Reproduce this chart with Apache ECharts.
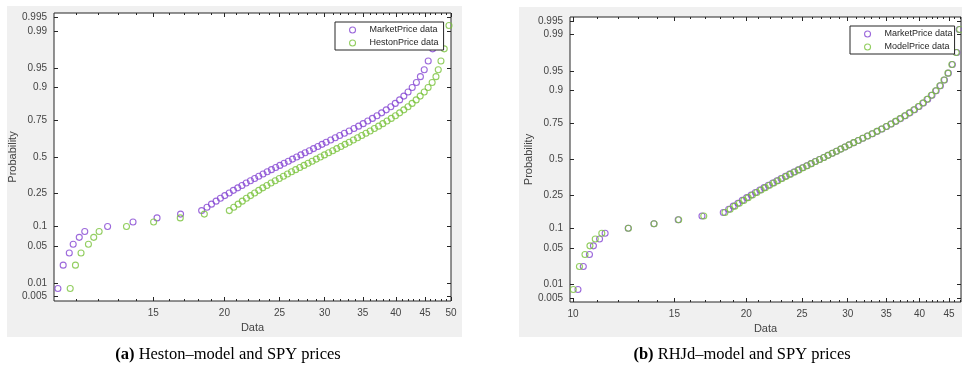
<!DOCTYPE html>
<html>
<head>
<meta charset="utf-8">
<script src="https://cdn.jsdelivr.net/npm/echarts@6/dist/echarts.min.js"></script>
<style>
html,body{margin:0;padding:0;background:#fff;}
#chart{width:962px;height:375px;}
</style>
</head>
<body>
<div id="chart"></div>
<script>
// ---- data (sorted prices) ----
const marketPrice = [10.20, 10.42, 10.68, 10.85, 11.12, 11.37, 12.47, 13.82, 15.23, 16.75,
  18.24, 18.64, 18.98, 19.34, 19.68, 20.03, 20.39, 20.74, 21.11, 21.47,
  21.84, 22.22, 22.60, 22.98, 23.38, 23.78, 24.19, 24.61, 25.03, 25.46,
  25.90, 26.34, 26.79, 27.25, 27.72, 28.20, 28.68, 29.18, 29.68, 30.18,
  30.74, 31.31, 31.88, 32.49, 33.12, 33.77, 34.41, 35.05, 35.71, 36.39,
  37.07, 37.77, 38.48, 39.20, 39.91, 40.62, 41.32, 42.03, 42.74, 43.47,
  44.18, 44.87, 45.60, 46.42, 46.85];
const hestonPrice = [10.72, 10.95, 11.20, 11.54, 11.79, 12.05, 13.46, 15.02, 16.73, 18.44,
  20.40, 20.77, 21.14, 21.50, 21.86, 22.23, 22.60, 22.98, 23.36, 23.75,
  24.15, 24.56, 24.97, 25.39, 25.81, 26.24, 26.68, 27.13, 27.59, 28.05,
  28.52, 29.00, 29.48, 29.97, 30.48, 30.99, 31.51, 32.04, 32.57, 33.12,
  33.69, 34.27, 34.85, 35.45, 36.06, 36.68, 37.31, 37.95, 38.60, 39.27,
  39.94, 40.62, 41.32, 42.02, 42.72, 43.43, 44.14, 44.87, 45.58, 46.33,
  47.05, 47.49, 48.01, 48.65, 49.59];
const modelPrice = [10.01, 10.26, 10.49, 10.70, 10.93, 11.22, 12.48, 13.83, 15.26, 16.87,
  18.36, 18.75, 19.10, 19.45, 19.80, 20.15, 20.50, 20.86, 21.22, 21.58,
  21.95, 22.33, 22.70, 23.08, 23.47, 23.87, 24.28, 24.69, 25.10, 25.52,
  25.95, 26.39, 26.83, 27.28, 27.74, 28.21, 28.69, 29.18, 29.67, 30.17,
  30.72, 31.28, 31.85, 32.45, 33.07, 33.71, 34.35, 34.99, 35.64, 36.31,
  36.98, 37.67, 38.37, 39.08, 39.79, 40.50, 41.20, 41.91, 42.63, 43.36,
  44.08, 44.79, 45.50, 46.30, 46.95];

const probTicks = [0.005, 0.01, 0.05, 0.1, 0.25, 0.5, 0.75, 0.9, 0.95, 0.99, 0.995];
const probTickLabels = ['0.005', '0.01', '0.05', '0.1', '0.25', '0.5', '0.75', '0.9', '0.95', '0.99', '0.995'];
const xTicksLeft = [15, 20, 25, 30, 35, 40, 45, 50];
const xTicksRight = [10, 15, 20, 25, 30, 35, 40, 45];
const xMinorTicks = [10, 11, 12, 13, 14, 15, 16, 17, 18, 19, 20, 21, 22, 23, 24, 25, 26, 27, 28, 29, 30,
  31, 32, 33, 34, 35, 36, 37, 38, 39, 40, 41, 42, 43, 44, 45, 46, 47, 48, 49, 50];
const xRangeLeft = [10.04, 50];
const xRangeRight = [9.88, 47.2];
const captionA = ['(a)', ' Heston\u2013model and SPY prices'];
const captionB = ['(b)', ' RHJd\u2013model and SPY prices'];

// ---- normal probability scale helpers ----
function norminv(p) {
  const a = [-3.969683028665376e+01, 2.209460984245205e+02, -2.759285104469687e+02, 1.383577518672690e+02, -3.066479806614716e+01, 2.506628277459239e+00];
  const b = [-5.447609879822406e+01, 1.615858368580409e+02, -1.556989798598866e+02, 6.680131188771972e+01, -1.328068155288572e+01];
  const c = [-7.784894002430293e-03, -3.223964580411365e-01, -2.400758277161838e+00, -2.549732539343734e+00, 4.374664141464968e+00, 2.938163982698783e+00];
  const d = [7.784695709041462e-03, 3.224671290700398e-01, 2.445134137142996e+00, 3.754408661907416e+00];
  const pl = 0.02425, ph = 1 - pl;
  let q, r;
  if (p < pl) {
    q = Math.sqrt(-2 * Math.log(p));
    return (((((c[0]*q+c[1])*q+c[2])*q+c[3])*q+c[4])*q+c[5]) / ((((d[0]*q+d[1])*q+d[2])*q+d[3])*q+1);
  }
  if (p <= ph) {
    q = p - 0.5; r = q * q;
    return (((((a[0]*r+a[1])*r+a[2])*r+a[3])*r+a[4])*r+a[5])*q / (((((b[0]*r+b[1])*r+b[2])*r+b[3])*r+b[4])*r+1);
  }
  q = Math.sqrt(-2 * Math.log(1 - p));
  return -(((((c[0]*q+c[1])*q+c[2])*q+c[3])*q+c[4])*q+c[5]) / ((((d[0]*q+d[1])*q+d[2])*q+d[3])*q+1);
}
// plotting positions of a normal probability plot: (rank - 0.5) / n
function probPoints(values) {
  const n = values.length;
  return values.map((v, i) => [Math.log(v), norminv((i + 0.5) / n)]);
}
const probTickZ = probTicks.map(norminv);
function probLabel(v) {
  for (let k = 0; k < probTickZ.length; k++) if (Math.abs(probTickZ[k] - v) < 1e-6) return probTickLabels[k];
  return '';
}

const FONT = '"Liberation Sans", Arial, Helvetica, sans-serif';
const AX = '#262626';
const LBL = '#444';
const PURPLE = '#8344d2';
const GREEN = '#78c23a';
const Y_LIM = 2.655;

function xAxesFor(gridIndex, range, majorTicks) {
  const base = {
    type: 'value', gridIndex, min: Math.log(range[0]), max: Math.log(range[1]),
    axisLine: {show: false, onZero: false}, splitLine: {show: false}
  };
  const majorVals = majorTicks.map(Math.log);
  const minorVals = xMinorTicks.map(Math.log);
  return [
    Object.assign({}, base, {
      position: 'bottom',
      axisTick: {inside: true, length: 4, customValues: majorVals, lineStyle: {color: AX, width: 1}},
      axisLabel: {customValues: majorVals, margin: 7, fontSize: 10, color: LBL, fontFamily: FONT,
        formatter: v => String(Math.round(Math.exp(v)))},
      name: 'Data', nameLocation: 'middle', nameGap: 20,
      nameTextStyle: {fontSize: 11, color: LBL, fontFamily: FONT}
    }),
    Object.assign({}, base, {
      position: 'bottom',
      axisTick: {inside: true, length: 2, customValues: minorVals, lineStyle: {color: AX, width: 1}},
      axisLabel: {show: false}
    }),
    Object.assign({}, base, {
      position: 'top',
      axisTick: {inside: true, length: 4, customValues: majorVals, lineStyle: {color: AX, width: 1}},
      axisLabel: {show: false}
    }),
    Object.assign({}, base, {
      position: 'top',
      axisTick: {inside: true, length: 2, customValues: minorVals, lineStyle: {color: AX, width: 1}},
      axisLabel: {show: false}
    })
  ];
}
function yAxesFor(gridIndex) {
  const base = {
    type: 'value', gridIndex, min: -Y_LIM, max: Y_LIM,
    axisLine: {show: false, onZero: false}, splitLine: {show: false}
  };
  return [
    Object.assign({}, base, {
      position: 'left',
      axisTick: {inside: true, length: 4, customValues: probTickZ, lineStyle: {color: AX, width: 1}},
      axisLabel: {customValues: probTickZ, margin: 7, fontSize: 10, color: LBL, fontFamily: FONT, formatter: probLabel},
      name: 'Probability', nameLocation: 'middle', nameGap: 36,
      nameTextStyle: {fontSize: 11, color: LBL, fontFamily: FONT}
    }),
    Object.assign({}, base, {
      position: 'right',
      axisTick: {inside: true, length: 4, customValues: probTickZ, lineStyle: {color: AX, width: 1}},
      axisLabel: {show: false}
    })
  ];
}
function scatter(name, values, xi, yi, color) {
  return {
    type: 'scatter', name, xAxisIndex: xi, yAxisIndex: yi,
    symbol: 'circle', symbolSize: 6, silent: true,
    itemStyle: {color: 'transparent', borderColor: color, borderWidth: 1.1},
    data: probPoints(values)
  };
}
function legendFor(left, top, names, colors, padRight) {
  return {
    left, top, orient: 'vertical', selectedMode: false,
    padding: [3, padRight, 2, 14], itemGap: 3, itemWidth: 24, itemHeight: 6,
    backgroundColor: '#fff', borderColor: AX, borderWidth: 1, borderRadius: 0,
    textStyle: {fontSize: 9, color: AX, fontFamily: FONT, lineHeight: 10},
    data: names.map((nm, k) => ({
      name: nm, icon: 'circle',
      itemStyle: {color: 'transparent', borderColor: colors[k], borderWidth: 1.1}
    }))
  };
}
function caption(parts, x, y) {
  return {
    type: 'text', x, y, z: 10, silent: true,
    style: {
      text: '{b|' + parts[0] + '}{r|' + parts[1] + '}',
      align: 'center', verticalAlign: 'middle',
      rich: {
        b: {fontFamily: '"Liberation Serif", "Times New Roman", serif', fontSize: 16.5, fontWeight: 'bold', fill: '#000'},
        r: {fontFamily: '"Liberation Serif", "Times New Roman", serif', fontSize: 16.5, fill: '#000'}
      }
    }
  };
}

const chart = echarts.init(document.getElementById('chart'), null, {renderer: 'canvas'});
chart.setOption({
  animation: false,
  backgroundColor: '#fff',
  graphic: {elements: [
    {type: 'rect', z: -100, silent: true, shape: {x: 7, y: 6, width: 455, height: 331}, style: {fill: '#f0f0f0'}},
    {type: 'rect', z: -100, silent: true, shape: {x: 519, y: 7, width: 443, height: 330}, style: {fill: '#f0f0f0'}},
    caption(captionA, 228, 355),
    caption(captionB, 742, 355)
  ]},
  grid: [
    {left: 54, top: 13, width: 397, height: 288, show: true, backgroundColor: '#fff', borderColor: AX, borderWidth: 1},
    {left: 570, top: 17, width: 391, height: 285, show: true, backgroundColor: '#fff', borderColor: AX, borderWidth: 1}
  ],
  xAxis: [].concat(xAxesFor(0, xRangeLeft, xTicksLeft), xAxesFor(1, xRangeRight, xTicksRight)),
  yAxis: [].concat(yAxesFor(0), yAxesFor(1)),
  legend: [
    legendFor(335, 22, ['MarketPrice data', 'HestonPrice data'], [PURPLE, GREEN], 5),
    legendFor(850, 26, ['MarketPrice data', 'ModelPrice data'], [PURPLE, GREEN], 2)
  ],
  series: [
    scatter('MarketPrice data', marketPrice, 0, 0, PURPLE),
    scatter('HestonPrice data', hestonPrice, 0, 0, GREEN),
    scatter('MarketPrice data', marketPrice, 4, 2, PURPLE),
    scatter('ModelPrice data', modelPrice, 4, 2, GREEN)
  ]
});
</script>
</body>
</html>
